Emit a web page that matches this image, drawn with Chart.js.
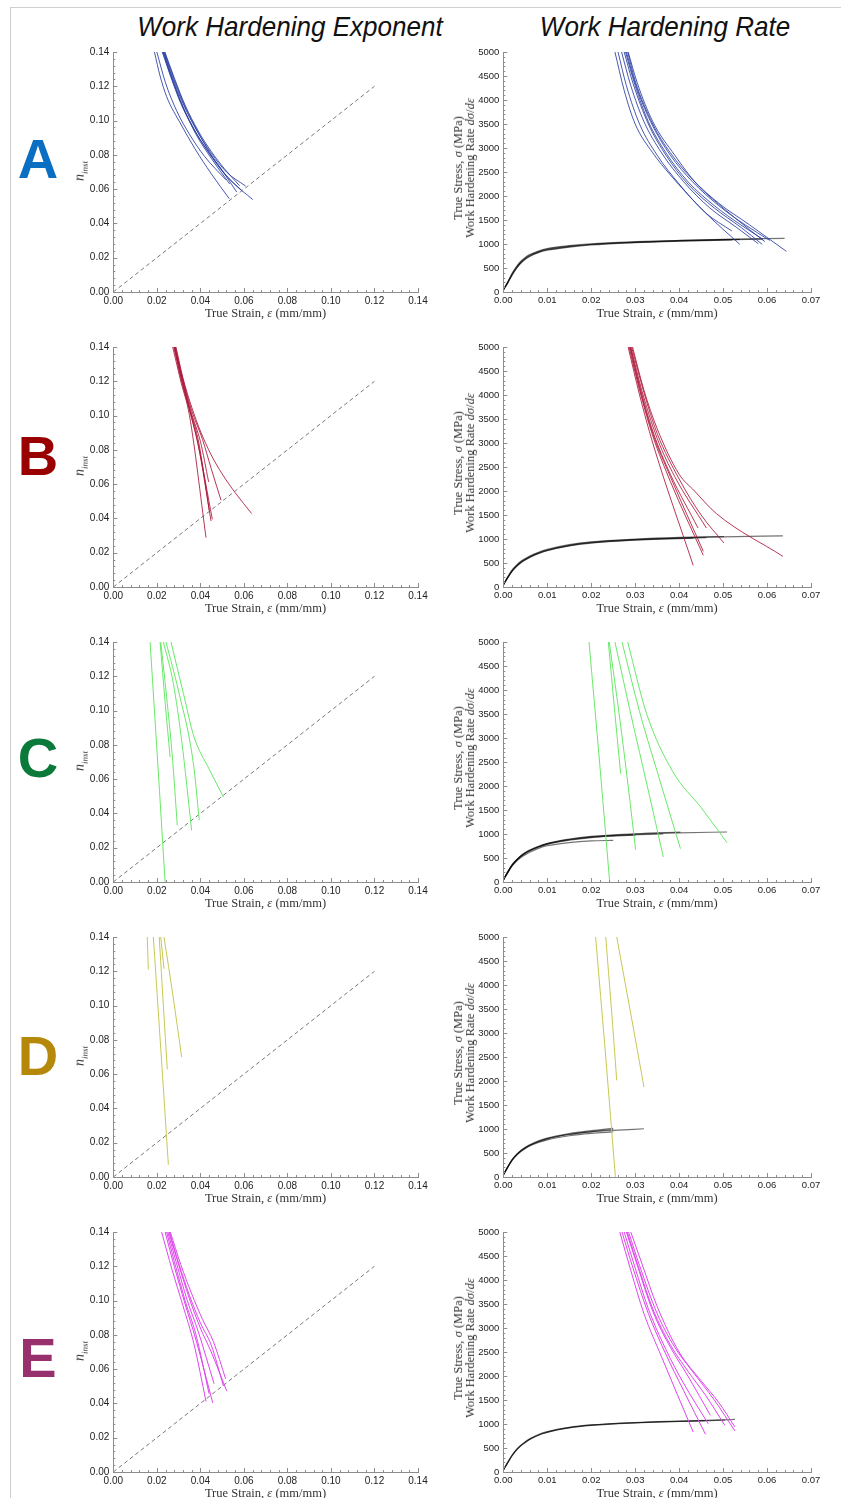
<!DOCTYPE html>
<html>
<head>
<meta charset="utf-8">
<script src="https://cdn.jsdelivr.net/npm/chart.js@4.4.1/dist/chart.umd.min.js"></script>
<style>
  body { margin: 0; background: #fff; width: 841px; height: 1498px; position: relative; overflow: hidden; }
  .frame-top { position: absolute; left: 10px; top: 7px; width: 831px; border-top: 1px solid #cfcfcf; }
  .frame-left { position: absolute; left: 10px; top: 7px; height: 1491px; border-left: 1px solid #cfcfcf; }
  .lbl { position: absolute; white-space: nowrap; transform: translate(-50%, -50%); }
  .title { font-family: "Liberation Sans", Arial, sans-serif; font-style: italic; font-size: 28px; color: #111; }
  .letter { font-family: "Liberation Sans", Arial, sans-serif; font-weight: bold; font-size: 56px; }
  .axt { font-family: "Liberation Serif", "Times New Roman", serif; font-size: 12.5px; color: #333; }
  .rot { transform: translate(-50%, -50%) rotate(-90deg); text-align: center; line-height: 12px; }
  canvas { position: absolute; }
</style>
</head>
<body>
<div class="frame-top"></div>
<div class="frame-left"></div>
<div class="lbl title" style="left:290px;top:27px;transform:translate(-50%,-50%) scaleX(0.93)">Work Hardening Exponent</div>
<div class="lbl title" style="left:665px;top:27px;transform:translate(-50%,-50%) scaleX(0.93)">Work Hardening Rate</div>
<script>
// ---- axes / ticks ----
const expStrainTicks = [0, 0.02, 0.04, 0.06, 0.08, 0.10, 0.12, 0.14];
const expNTicks = [0, 0.02, 0.04, 0.06, 0.08, 0.10, 0.12, 0.14];
const rateStrainTicks = [0, 0.01, 0.02, 0.03, 0.04, 0.05, 0.06, 0.07];
const rateTicks = [0, 500, 1000, 1500, 2000, 2500, 3000, 3500, 4000, 4500, 5000];

const rowLetters = ["A", "B", "C", "D", "E"];
const letterColors = ["#0a6fc2", "#990000", "#0a7a3a", "#b5880a", "#99306e"];
const curveColors = ["rgba(40,60,160,0.85)", "rgba(170,20,55,0.85)", "rgb(105,232,105)", "rgb(200,200,85)", "rgb(220,70,235)"];

// n = strain reference line
const diagLine = [[0, 0], [0.12, 0.12]];

// ---- A ----
const aN1 = [[0.0189,0.14],[0.0215,0.126],[0.0245,0.114],[0.031,0.098],[0.0375,0.0836],[0.045,0.069],[0.0533,0.0544]];
const aN2 = [[0.0200,0.14],[0.024,0.122],[0.029,0.106],[0.035,0.092],[0.042,0.079],[0.0517,0.0655]];
const aN3 = [[0.0225,0.14],[0.026,0.127],[0.031,0.11],[0.037,0.095],[0.043,0.083],[0.050,0.071],[0.0567,0.0583]];
const aN4 = [[0.0228,0.14],[0.027,0.124],[0.032,0.108],[0.038,0.093],[0.044,0.081],[0.051,0.069],[0.059,0.0593]];
const aN5 = [[0.0232,0.14],[0.027,0.126],[0.032,0.11],[0.038,0.095],[0.045,0.081],[0.052,0.07],[0.0608,0.0618]];
const aN6 = [[0.0235,0.14],[0.028,0.124],[0.033,0.108],[0.039,0.093],[0.046,0.078],[0.054,0.065],[0.0641,0.0539]];
const aN7 = [[0.0237,0.14],[0.028,0.125],[0.033,0.109],[0.039,0.094],[0.045,0.082],[0.051,0.072],[0.058,0.062]];
const aN8 = [[0.0230,0.14],[0.027,0.125],[0.032,0.108],[0.038,0.092],[0.045,0.078],[0.0535,0.063]];

const aR1 = [[0.0254,5000],[0.0275,4200],[0.030,3500],[0.034,2900],[0.0379,2450],[0.046,1650],[0.0538,993]];
const aR2 = [[0.0261,5000],[0.028,4300],[0.031,3500],[0.035,2850],[0.040,2250],[0.046,1650],[0.052,1271]];
const aR3 = [[0.0269,5000],[0.029,4300],[0.032,3550],[0.036,2900],[0.041,2300],[0.047,1750],[0.053,1350],[0.058,1007]];
const aR4 = [[0.0275,5000],[0.0295,4350],[0.033,3500],[0.037,2850],[0.042,2250],[0.048,1750],[0.054,1350],[0.0589,993]];
const aR5 = [[0.0278,5000],[0.030,4300],[0.033,3550],[0.037,2900],[0.042,2300],[0.048,1800],[0.054,1400],[0.0591,1097]];
const aR6 = [[0.0280,5000],[0.030,4350],[0.0335,3550],[0.038,2850],[0.043,2300],[0.049,1800],[0.055,1400],[0.0606,1076]];
const aR7 = [[0.0283,5000],[0.030,4400],[0.034,3500],[0.038,2900],[0.043,2350],[0.049,1850],[0.056,1400],[0.0644,847]];
const aR8 = [[0.0284,5000],[0.0305,4350],[0.034,3550],[0.039,2850],[0.044,2250],[0.050,1750],[0.056,1300],[0.0595,1050]];

const aS1 = [[0,40],[0.001,210],[0.002,390],[0.003,530],[0.004,640],[0.005,720],[0.006,780],[0.008,855],[0.01,905],[0.015,965],[0.02,1005],[0.03,1048],[0.04,1075],[0.05,1095],[0.064,1118]];
const aS2 = [[0,40],[0.001,190],[0.002,360],[0.003,500],[0.004,610],[0.005,690],[0.006,750],[0.008,830],[0.01,880],[0.015,945],[0.02,990],[0.03,1035],[0.04,1065],[0.05,1085],[0.059,1100]];
const aS3 = [[0,40],[0.001,200],[0.002,375],[0.003,515],[0.004,625],[0.005,705],[0.006,765],[0.008,840],[0.01,892],[0.015,955],[0.02,995],[0.03,1040],[0.04,1070],[0.0538,1098]];
const aS4 = [[0,40],[0.001,185],[0.002,350],[0.003,490],[0.004,600],[0.005,680],[0.006,740],[0.008,820],[0.01,870],[0.015,935],[0.02,980],[0.03,1028],[0.04,1058],[0.052,1085]];

// ---- B ----
const bN1 = [[0.0273,0.14],[0.031,0.12],[0.035,0.10],[0.0426,0.0288]];
const bN2 = [[0.0278,0.14],[0.031,0.122],[0.035,0.103],[0.039,0.083],[0.0449,0.0385]];
const bN3 = [[0.0280,0.14],[0.031,0.123],[0.035,0.104],[0.039,0.086],[0.0441,0.0447]];
const bN4 = [[0.0283,0.14],[0.032,0.12],[0.036,0.101],[0.040,0.085],[0.0438,0.0613]];
const bN5 = [[0.0285,0.14],[0.032,0.121],[0.036,0.103],[0.041,0.086],[0.045,0.069],[0.0495,0.0506]];
const bN6 = [[0.0288,0.14],[0.032,0.122],[0.036,0.105],[0.040,0.091],[0.045,0.077],[0.050,0.066],[0.056,0.055],[0.0636,0.0428]];
const bN7 = [[0.0282,0.14],[0.031,0.124],[0.035,0.104],[0.039,0.083],[0.0455,0.0395]];

const bR1 = [[0.0284,5000],[0.031,4000],[0.034,3000],[0.0432,451]];
const bR2 = [[0.0286,5000],[0.031,4100],[0.034,3150],[0.038,2200],[0.0455,660]];
const bR3 = [[0.0288,5000],[0.031,4150],[0.034,3200],[0.038,2300],[0.0455,743]];
const bR4 = [[0.0289,5000],[0.031,4200],[0.034,3250],[0.038,2350],[0.0443,1229]];
const bR5 = [[0.0290,5000],[0.0315,4100],[0.035,3100],[0.039,2300],[0.0462,1229]];
const bR6 = [[0.0292,5000],[0.032,4050],[0.035,3200],[0.040,2250],[0.045,1500],[0.0502,917]];
const bR7 = [[0.0294,5000],[0.032,4100],[0.035,3300],[0.040,2350],[0.0435,2000],[0.0485,1528],[0.0636,639]];

const bS1 = [[0,40],[0.001,200],[0.002,340],[0.003,440],[0.004,520],[0.005,580],[0.006,630],[0.008,710],[0.01,770],[0.015,870],[0.02,930],[0.03,990],[0.04,1025],[0.05,1045],[0.0636,1065]];
const bS2 = [[0,40],[0.001,190],[0.002,325],[0.003,425],[0.004,505],[0.005,565],[0.006,615],[0.008,695],[0.01,755],[0.015,855],[0.02,915],[0.03,975],[0.04,1012],[0.0462,1028]];
const bS3 = [[0,40],[0.001,210],[0.002,355],[0.003,455],[0.004,535],[0.005,595],[0.006,645],[0.008,725],[0.01,785],[0.015,882],[0.02,940],[0.03,998],[0.04,1032],[0.0502,1050]];
const bS4 = [[0,40],[0.001,195],[0.002,332],[0.003,432],[0.004,512],[0.005,572],[0.006,622],[0.008,702],[0.01,762],[0.015,862],[0.02,922],[0.03,982],[0.0432,1020]];

// ---- C ----
const cN1 = [[0.0169,0.14],[0.0204,0.07],[0.0238,0.0]];
const cN2 = [[0.0215,0.14],[0.0238,0.105],[0.0261,0.0729]];
const cN3 = [[0.0218,0.14],[0.0245,0.108],[0.027,0.075],[0.0294,0.0331]];
const cN4 = [[0.0230,0.14],[0.0276,0.1157],[0.0314,0.0826],[0.0360,0.0301]];
const cN5 = [[0.0242,0.14],[0.0299,0.1118],[0.0368,0.069],[0.0395,0.036]];
const cN6 = [[0.0265,0.14],[0.0322,0.11],[0.0371,0.0846],[0.0440,0.066],[0.0506,0.0496]];

const cR1 = [[0.0195,5000],[0.0219,2500],[0.0242,0]];
const cR2 = [[0.0239,5000],[0.0253,3600],[0.0267,2257]];
const cR3 = [[0.0241,5000],[0.0265,3400],[0.0284,2000],[0.0301,674]];
const cR4 = [[0.0254,5000],[0.0290,3500],[0.0330,1900],[0.0364,521]];
const cR5 = [[0.0270,5000],[0.0310,3550],[0.0360,2000],[0.0403,694]];
const cR6 = [[0.0283,5000],[0.0326,3507],[0.0386,2292],[0.0450,1550],[0.0509,819]];

const cS1 = [[0,40],[0.001,190],[0.002,330],[0.003,430],[0.004,510],[0.005,570],[0.006,620],[0.008,700],[0.01,755],[0.015,820],[0.02,855],[0.025,868]];
const cS2 = [[0,40],[0.001,200],[0.002,345],[0.003,450],[0.004,530],[0.005,595],[0.006,645],[0.008,725],[0.01,785],[0.015,870],[0.02,925],[0.025,955],[0.0301,975]];
const cS3 = [[0,40],[0.001,205],[0.002,350],[0.003,455],[0.004,540],[0.005,605],[0.006,655],[0.008,735],[0.01,795],[0.015,880],[0.02,935],[0.03,985],[0.0364,1000]];
const cS4 = [[0,40],[0.001,210],[0.002,360],[0.003,465],[0.004,550],[0.005,615],[0.006,665],[0.008,745],[0.01,805],[0.015,895],[0.02,950],[0.03,1005],[0.0403,1040]];
const cS5 = [[0,40],[0.001,200],[0.002,350],[0.003,455],[0.004,540],[0.005,605],[0.006,655],[0.008,735],[0.01,795],[0.015,885],[0.02,940],[0.03,995],[0.04,1025],[0.0509,1042]];

// ---- D ----
const dN1 = [[0.0156,0.14],[0.0161,0.121]];
const dN2 = [[0.0184,0.14],[0.0218,0.075],[0.0253,0.0072]];
const dN3 = [[0.0211,0.14],[0.0230,0.10],[0.0248,0.0628]];
const dN4 = [[0.0218,0.14],[0.0233,0.1215]];
const dN5 = [[0.0233,0.14],[0.0275,0.105],[0.0314,0.070]];

const dR1 = [[0.0210,5000],[0.0233,2500],[0.0255,0]];
const dR2 = [[0.0233,5000],[0.0246,3500],[0.0258,2014]];
const dR3 = [[0.0258,5000],[0.0290,3400],[0.0320,1875]];

const dS1 = [[0,40],[0.001,200],[0.002,345],[0.003,450],[0.004,530],[0.005,595],[0.006,645],[0.008,720],[0.01,775],[0.015,860],[0.02,910],[0.025,940]];
const dS2 = [[0,40],[0.001,205],[0.002,355],[0.003,462],[0.004,545],[0.005,610],[0.006,660],[0.008,740],[0.01,800],[0.015,890],[0.02,945],[0.025,990]];
const dS3 = [[0,40],[0.001,210],[0.002,362],[0.003,470],[0.004,555],[0.005,620],[0.006,672],[0.008,752],[0.01,812],[0.015,905],[0.02,965],[0.025,1015]];
const dS4 = [[0,40],[0.001,205],[0.002,352],[0.003,458],[0.004,540],[0.005,605],[0.006,655],[0.008,735],[0.01,795],[0.015,885],[0.02,940],[0.025,970],[0.032,1005]];

// ---- E ----
const eN1 = [[0.0222,0.14],[0.027,0.118],[0.032,0.097],[0.037,0.075],[0.0426,0.0412]];
const eN2 = [[0.0238,0.14],[0.028,0.12],[0.033,0.098],[0.038,0.077],[0.0457,0.0403]];
const eN3 = [[0.0245,0.14],[0.028,0.123],[0.033,0.100],[0.038,0.080],[0.044,0.0457]];
const eN4 = [[0.0250,0.14],[0.029,0.122],[0.034,0.100],[0.039,0.082],[0.0463,0.0515]];
const eN5 = [[0.0255,0.14],[0.030,0.121],[0.035,0.101],[0.040,0.084],[0.045,0.070],[0.0521,0.0473]];
const eN6 = [[0.0258,0.14],[0.030,0.122],[0.035,0.103],[0.040,0.087],[0.045,0.074],[0.0506,0.0502]];
const eN7 = [[0.0262,0.14],[0.031,0.121],[0.036,0.104],[0.041,0.089],[0.046,0.076],[0.0516,0.0544]];

const eR1 = [[0.0265,5000],[0.029,4200],[0.032,3300],[0.036,2400],[0.0432,833]];
const eR2 = [[0.0270,5000],[0.0295,4250],[0.033,3300],[0.037,2450],[0.041,1700],[0.046,785]];
const eR3 = [[0.0275,5000],[0.030,4250],[0.033,3400],[0.037,2550],[0.041,1850],[0.0466,1007]];
const eR4 = [[0.0280,5000],[0.0305,4300],[0.034,3350],[0.038,2600],[0.042,2000],[0.0471,1181]];
const eR5 = [[0.0282,5000],[0.031,4200],[0.034,3400],[0.038,2650],[0.042,2100],[0.046,1600],[0.0504,972]];
const eR6 = [[0.0285,5000],[0.031,4300],[0.035,3300],[0.039,2600],[0.043,2100],[0.048,1500],[0.0527,854]];
const eR7 = [[0.0290,5000],[0.0315,4350],[0.035,3450],[0.040,2500],[0.045,1900],[0.049,1450],[0.0527,938]];

const eS1 = [[0,40],[0.001,200],[0.002,350],[0.003,470],[0.004,560],[0.005,630],[0.006,690],[0.008,780],[0.01,840],[0.015,930],[0.02,980],[0.03,1030],[0.04,1060],[0.05,1085],[0.0527,1095]];
const eS2 = [[0,40],[0.001,190],[0.002,338],[0.003,455],[0.004,545],[0.005,615],[0.006,675],[0.008,765],[0.01,825],[0.015,918],[0.02,970],[0.03,1022],[0.04,1052],[0.046,1068]];
const eS3 = [[0,40],[0.001,195],[0.002,344],[0.003,462],[0.004,552],[0.005,622],[0.006,682],[0.008,772],[0.01,832],[0.015,924],[0.02,975],[0.03,1026],[0.04,1056],[0.0504,1080]];

const expRows = [
  [aN1, aN2, aN3, aN4, aN5, aN6, aN7, aN8],
  [bN1, bN2, bN3, bN4, bN5, bN6, bN7],
  [cN1, cN2, cN3, cN4, cN5, cN6],
  [dN1, dN2, dN3, dN4, dN5],
  [eN1, eN2, eN3, eN4, eN5, eN6, eN7]
];
const rateRows = [
  [aR1, aR2, aR3, aR4, aR5, aR6, aR7, aR8],
  [bR1, bR2, bR3, bR4, bR5, bR6, bR7],
  [cR1, cR2, cR3, cR4, cR5, cR6],
  [dR1, dR2, dR3],
  [eR1, eR2, eR3, eR4, eR5, eR6, eR7]
];
const stressRows = [
  [aS1, aS2, aS3, aS4],
  [bS1, bS2, bS3, bS4],
  [cS1, cS2, cS3, cS4, cS5],
  [dS1, dS2, dS3, dS4],
  [eS1, eS2, eS3]
];

// ---- layout ----
const plotTops = [51.7, 346.7, 641.7, 936.7, 1231.7];
const letterY = [158, 455, 757, 1055, 1357];

// Mathematica style ticks drawn inside the frame
const innerTicks = {
  id: "innerTicks",
  afterDraw(chart, args, o) {
    const ctx = chart.ctx;
    const area = chart.chartArea;
    const xs = chart.scales.x;
    const ys = chart.scales.y;
    ctx.save();
    ctx.strokeStyle = "#8c8c8c";
    ctx.lineWidth = 1;
    ctx.beginPath();
    const nx = Math.round((xs.max - xs.min) / o.xMinor);
    for (let i = 0; i <= nx; i++) {
      const px = Math.round(xs.getPixelForValue(xs.min + i * o.xMinor)) + 0.5;
      const len = i % 5 === 0 ? 4 : 2;
      ctx.moveTo(px, area.bottom);
      ctx.lineTo(px, area.bottom - len);
    }
    const ny = Math.round((ys.max - ys.min) / o.yMinor);
    for (let i = 0; i <= ny; i++) {
      const py = Math.round(ys.getPixelForValue(ys.min + i * o.yMinor)) + 0.5;
      const len = i % 5 === 0 ? 4 : 2;
      ctx.moveTo(area.left, py);
      ctx.lineTo(area.left + len, py);
    }
    ctx.stroke();
    ctx.restore();
  }
};

function line(arr, color, extra) {
  return Object.assign({
    data: arr.map(([x, y]) => ({ x, y })),
    showLine: true,
    pointRadius: 0,
    borderWidth: 1,
    borderColor: color,
    cubicInterpolationMode: "monotone"
  }, extra || {});
}

function makePanel(p) {
  const canvas = document.createElement("canvas");
  canvas.width = p.width;
  canvas.height = 280;
  canvas.style.left = p.left + "px";
  canvas.style.top = (p.plotTop - 12) + "px";
  canvas.style.width = p.width + "px";
  canvas.style.height = "280px";
  document.body.appendChild(canvas);

  const tickFont = { family: "'Liberation Sans', Arial, sans-serif", size: p.fontSize };

  new Chart(canvas, {
    type: "scatter",
    data: { datasets: p.datasets },
    options: {
      responsive: false,
      animation: false,
      devicePixelRatio: 1,
      layout: { padding: { top: 12, right: p.padRight, bottom: 0, left: 0 } },
      plugins: {
        legend: { display: false },
        tooltip: { enabled: false },
        innerTicks: { xMinor: p.xMinor, yMinor: p.yMinor }
      },
      scales: {
        x: {
          type: "linear",
          min: 0,
          max: p.xTicks[p.xTicks.length - 1],
          afterBuildTicks: (s) => { s.ticks = p.xTicks.map((v) => ({ value: v })); },
          afterFit: (s) => { s.height = 28; },
          grid: { display: false, drawTicks: false },
          border: { display: true, color: "#8c8c8c" },
          ticks: { padding: 3, font: tickFont, color: "#222", callback: (v) => v.toFixed(2) }
        },
        y: {
          type: "linear",
          min: 0,
          max: p.yTicks[p.yTicks.length - 1],
          afterBuildTicks: (s) => { s.ticks = p.yTicks.map((v) => ({ value: v })); },
          afterFit: (s) => { s.width = p.yAxisWidth; },
          grid: { display: false, drawTicks: false },
          border: { display: true, color: "#8c8c8c" },
          ticks: { padding: 4, font: tickFont, color: "#222", callback: p.yFormat }
        }
      }
    },
    plugins: [innerTicks]
  });
}

function addLabel(html, cls, x, y, style) {
  const d = document.createElement("div");
  d.className = "lbl " + cls;
  d.style.left = x + "px";
  d.style.top = y + "px";
  if (style) d.style.cssText += style;
  d.innerHTML = html;
  document.body.appendChild(d);
}

rowLetters.forEach((letter, r) => {
  const top = plotTops[r];
  const color = curveColors[r];

  const expSets = expRows[r].map((c) => line(c, color));
  expSets.push(line(diagLine, "#777", { borderDash: [4, 3], cubicInterpolationMode: "default" }));
  makePanel({
    left: 60, width: 372, plotTop: top, padRight: 14, yAxisWidth: 53.3, fontSize: 10,
    xTicks: expStrainTicks, yTicks: expNTicks, xMinor: 0.004, yMinor: 0.004,
    yFormat: (v) => v.toFixed(2), datasets: expSets
  });

  const rateSets = rateRows[r].map((c) => line(c, color));
  stressRows[r].forEach((c) => rateSets.push(line(c, "rgba(0,0,0,0.55)", { borderWidth: 1.2 })));
  makePanel({
    left: 440, width: 387, plotTop: top, padRight: 16, yAxisWidth: 63.3, fontSize: 9.5,
    xTicks: rateStrainTicks, yTicks: rateTicks, xMinor: 0.002, yMinor: 100,
    yFormat: (v) => String(v), datasets: rateSets
  });

  addLabel(letter, "letter", 38, letterY[r], "color:" + letterColors[r]);
  addLabel("<i>n</i><sub style='font-size:9px'><i>inst</i></sub>", "axt rot", 82, top + 119, "font-size:14px");
  addLabel("True Stress, <i>σ</i> (MPa)<br>Work Hardening Rate <i>dσ</i>/<i>dε</i>", "axt rot", 464, top + 116);
  addLabel("True Strain, <i>ε</i> (mm/mm)", "axt", 265.5, top + 261.5);
  addLabel("True Strain, <i>ε</i> (mm/mm)", "axt", 657, top + 261.5);
});
</script>
</body>
</html>
